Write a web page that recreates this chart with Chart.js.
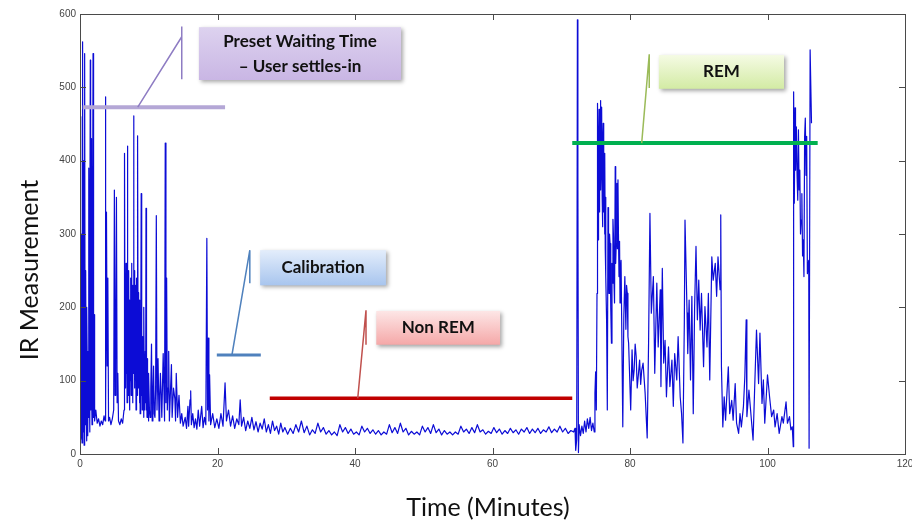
<!DOCTYPE html>
<html>
<head>
<meta charset="utf-8">
<script src="https://cdn.jsdelivr.net/npm/chart.js@4.4.1/dist/chart.umd.min.js"></script>
<style>
  html, body { margin: 0; padding: 0; background: #fff; }
</style>
</head>
<body>
<canvas id="irChart" width="912" height="522"></canvas>
<script>
// ---- data (minutes, IR reading) ----
const settleTrace = [
  [0.05, 460], [0.1, 20], [0.15, 180], [0.2, 300], [0.25, 40], [0.3, 15], [0.35, 250], [0.4, 562],
  [0.45, 30], [0.5, 200], [0.55, 400], [0.6, 12], [0.65, 300], [0.7, 546], [0.75, 40], [0.8, 160],
  [0.85, 250], [0.9, 60], [0.95, 18], [1.0, 200], [1.05, 120], [1.1, 60], [1.15, 25], [1.2, 140],
  [1.25, 50], [1.3, 390], [1.35, 120], [1.4, 30], [1.45, 260], [1.5, 537], [1.55, 60], [1.6, 200],
  [1.65, 430], [1.7, 90], [1.75, 40], [1.8, 150], [1.85, 300], [1.9, 546], [1.95, 50], [2.0, 120],
  [2.05, 190], [2.1, 60], [2.15, 45], [2.3, 60], [2.5, 42], [2.7, 48], [2.9, 38], [3.1, 45],
  [3.3, 40], [3.5, 52], [3.65, 45], [3.7, 487], [3.75, 60], [3.85, 330], [3.95, 120], [4.05, 240],
  [4.15, 45], [4.3, 50], [4.5, 40], [4.7, 48], [4.9, 60], [5.0, 360], [5.1, 80], [5.2, 150],
  [5.3, 350], [5.4, 70], [5.5, 110], [5.6, 45], [5.8, 40], [6.0, 48], [6.2, 42], [6.4, 60],
  [6.45, 180], [6.5, 410], [6.55, 120], [6.6, 240], [6.65, 90], [6.7, 260], [6.75, 110], [6.8, 200],
  [6.85, 70], [6.9, 420], [6.95, 150], [7.0, 230], [7.05, 80], [7.1, 250], [7.15, 120], [7.2, 210],
  [7.25, 60], [7.3, 200], [7.35, 100], [7.4, 240], [7.45, 80], [7.5, 260], [7.55, 130], [7.6, 220],
  [7.65, 70], [7.7, 230], [7.75, 140], [7.8, 461], [7.85, 110], [7.9, 250], [7.95, 90], [8.0, 210],
  [8.05, 130], [8.1, 230], [8.15, 60], [8.2, 240], [8.25, 120], [8.3, 200], [8.35, 80], [8.4, 434],
  [8.45, 130], [8.5, 220], [8.55, 90], [8.6, 210], [8.65, 70], [8.7, 180], [8.75, 55], [8.8, 190],
  [8.85, 100], [8.9, 355], [8.95, 80], [9.0, 170], [9.05, 60], [9.1, 160], [9.15, 70], [9.2, 150],
  [9.25, 50], [9.3, 200], [9.35, 90], [9.4, 130], [9.45, 60], [9.5, 140], [9.55, 70], [9.6, 335],
  [9.65, 60], [9.7, 120], [9.75, 50], [9.8, 130], [9.85, 60], [9.9, 100], [9.95, 45], [10.0, 110],
  [10.1, 60], [10.2, 50], [10.3, 90], [10.4, 150], [10.5, 45], [10.6, 80], [10.7, 120], [10.8, 55],
  [10.9, 50], [11.0, 90], [11.1, 325], [11.2, 60], [11.35, 130], [11.5, 45], [11.6, 80], [11.7, 110],
  [11.9, 50], [12.1, 137], [12.3, 45], [12.4, 424], [12.5, 70], [12.6, 240], [12.7, 60], [12.8, 90],
  [12.9, 140], [13.0, 45], [13.3, 122], [13.4, 50], [13.6, 90], [13.8, 75], [13.9, 45], [14.0, 110],
  [14.2, 50], [14.4, 80], [14.6, 42], [14.8, 55], [15.0, 38]
];
const calibTrace = [
  [15.3, 50], [15.5, 35], [15.7, 65], [15.8, 38], [16.0, 74], [16.1, 86], [16.2, 40], [16.4, 55],
  [16.6, 36], [16.8, 48], [17.0, 34], [17.2, 60], [17.4, 38], [17.7, 65], [17.9, 36], [18.1, 50],
  [18.3, 40], [18.45, 294], [18.55, 60], [18.65, 158], [18.75, 45], [18.85, 108], [19.0, 40], [19.3, 55],
  [19.6, 36], [19.9, 48], [20.2, 35], [20.5, 55], [20.8, 38], [21.1, 97], [21.3, 45], [21.6, 60],
  [21.9, 38], [22.2, 52], [22.5, 35], [22.8, 48], [23.1, 40], [23.3, 74], [23.5, 38], [23.8, 50],
  [24.1, 32], [24.4, 45], [24.7, 35], [25.0, 50], [25.3, 33], [25.6, 44], [25.9, 30], [26.2, 42],
  [26.5, 34], [26.8, 48], [27.1, 30], [27.4, 40], [27.7, 28], [28.0, 45], [28.3, 32], [28.6, 38],
  [28.9, 27], [29.2, 42], [29.5, 30], [29.8, 36]
];
const nonRemTrace = [
  [30.2, 27], [30.6, 35], [31.0, 28], [31.4, 40], [31.8, 30], [32.2, 45], [32.6, 29], [33.0, 38],
  [33.4, 26], [33.8, 33], [34.2, 28], [34.6, 42], [35.0, 30], [35.4, 36], [35.8, 27], [36.2, 32],
  [36.6, 26], [37.0, 30], [37.4, 25], [37.8, 40], [38.2, 30], [38.6, 36], [39.0, 28], [39.4, 34],
  [39.8, 27], [40.2, 30], [40.6, 26], [41.0, 38], [41.4, 30], [41.8, 35], [42.2, 28], [42.6, 33],
  [43.0, 27], [43.4, 32], [43.8, 26], [44.2, 30], [44.6, 27], [45.0, 40], [45.4, 29], [45.8, 36],
  [46.2, 28], [46.6, 42], [47.0, 30], [47.4, 35], [47.8, 26], [48.2, 31], [48.6, 27], [49.0, 30],
  [49.4, 26], [49.8, 38], [50.2, 30], [50.6, 36], [51.0, 28], [51.4, 40], [51.8, 29], [52.2, 34],
  [52.6, 26], [53.0, 32], [53.4, 27], [53.8, 30], [54.2, 26], [54.6, 30], [55.0, 27], [55.4, 38],
  [55.8, 30], [56.2, 34], [56.6, 28], [57.0, 36], [57.4, 29], [57.8, 40], [58.2, 30], [58.6, 33],
  [59.0, 27], [59.4, 31], [59.8, 28], [60.2, 36], [60.6, 29], [61.0, 34], [61.4, 27], [61.8, 32],
  [62.2, 28], [62.6, 35], [63.0, 29], [63.4, 33], [63.8, 27], [64.2, 34], [64.6, 30], [65.0, 36],
  [65.4, 28], [65.8, 34], [66.2, 29], [66.6, 35], [67.0, 28], [67.4, 33], [67.8, 30], [68.2, 37],
  [68.6, 29], [69.0, 34], [69.4, 30], [69.8, 38], [70.2, 30], [70.6, 35], [71.0, 28], [71.4, 32]
];
const remTrace = [
  [71.8, 30], [72.0, 35], [72.1, 5], [72.25, 20], [72.35, 592], [72.42, 378], [72.5, 2], [72.6, 40],
  [72.8, 25], [73.0, 38], [73.2, 28], [73.4, 45], [73.6, 30], [73.8, 48], [74.0, 35], [74.2, 50],
  [74.4, 32], [74.6, 42], [74.8, 30], [74.9, 83], [75.0, 112], [75.1, 60], [75.2, 219], [75.25, 400],
  [75.3, 478], [75.35, 300], [75.4, 292], [75.45, 420], [75.5, 470], [75.55, 330], [75.6, 369], [75.65, 450],
  [75.7, 482], [75.75, 360], [75.8, 392], [75.85, 440], [75.9, 473], [75.95, 350], [76.0, 310], [76.05, 420],
  [76.1, 451], [76.15, 330], [76.2, 351], [76.25, 400], [76.3, 300], [76.35, 410], [76.4, 280], [76.45, 350],
  [76.5, 242], [76.6, 180], [76.7, 60], [76.8, 336], [76.88, 250], [76.95, 219], [77.02, 300], [77.1, 287],
  [77.2, 200], [77.3, 151], [77.38, 260], [77.45, 233], [77.52, 320], [77.6, 296], [77.68, 230], [77.75, 206],
  [77.85, 392], [77.92, 260], [78.0, 287], [78.1, 369], [78.17, 280], [78.25, 374], [78.32, 300], [78.4, 242],
  [78.48, 290], [78.55, 206], [78.62, 250], [78.7, 264], [78.95, 37], [79.1, 188], [79.25, 242], [79.4, 170],
  [79.5, 230], [79.6, 219], [79.7, 160], [79.8, 151], [80.1, 60], [80.3, 142], [80.45, 100], [80.6, 114],
  [80.75, 150], [80.9, 133], [81.05, 90], [81.2, 106], [81.4, 128], [81.55, 95], [81.7, 114], [81.9, 124],
  [82.2, 83], [82.5, 22], [82.7, 150], [82.9, 328], [83.1, 192], [83.4, 242], [83.6, 110], [83.9, 233],
  [84.1, 146], [84.4, 224], [84.5, 92], [84.7, 253], [84.9, 124], [85.1, 155], [85.3, 78], [85.6, 146],
  [85.8, 92], [86.1, 128], [86.3, 65], [86.5, 137], [86.8, 101], [87.0, 160], [87.3, 78], [87.5, 55],
  [87.7, 15], [87.9, 178], [88.0, 319], [88.3, 192], [88.4, 137], [88.6, 210], [88.8, 101], [89.0, 215],
  [89.2, 55], [89.4, 201], [89.6, 283], [89.8, 183], [90.0, 237], [90.2, 169], [90.4, 219], [90.7, 119],
  [90.9, 201], [91.2, 146], [91.4, 219], [91.6, 101], [91.9, 269], [92.1, 237], [92.4, 260], [92.6, 215],
  [92.8, 269], [93.1, 224], [93.2, 326], [93.3, 119], [93.5, 37], [93.7, 78], [93.9, 46], [94.1, 83],
  [94.3, 119], [94.5, 55], [94.8, 73], [95.0, 46], [95.3, 96], [95.5, 42], [95.8, 28], [96.0, 55],
  [96.2, 37], [96.5, 65], [96.7, 105], [96.9, 183], [97.0, 51], [97.3, 87], [97.9, 19], [98.2, 110],
  [98.4, 169], [98.7, 96], [98.9, 165], [99.2, 69], [99.4, 101], [99.6, 42], [100.0, 108], [100.3, 78],
  [100.6, 51], [100.9, 60], [101.1, 37], [101.4, 55], [101.7, 28], [102.1, 51], [102.3, 42], [102.7, 71],
  [102.9, 42], [103.2, 51], [103.4, 33], [103.6, 37], [103.75, 10], [103.8, 494], [103.9, 342], [104.0, 472],
  [104.05, 400], [104.1, 387], [104.15, 430], [104.2, 446], [104.3, 380], [104.4, 346], [104.5, 442], [104.6, 360],
  [104.7, 387], [104.8, 300], [104.9, 319], [105.0, 355], [105.1, 270], [105.2, 292], [105.3, 242], [105.4, 433],
  [105.5, 458], [105.6, 380], [105.7, 433], [105.8, 246], [106.0, 264], [106.05, 8], [106.2, 551], [106.4, 451]
];

const xTicks = [0, 20, 40, 60, 80, 100, 120];
const yTicks = [0, 100, 200, 300, 400, 500, 600];

// sleep phase markers
const phaseLabels = [['Preset Waiting Time', '\u2013 User settles-in'], ['Calibration'], ['Non REM'], ['REM']];
const phaseLevel = [473, 135, 76, 424];
const phaseFrom = [0.4, 19.9, 27.6, 71.6];
const phaseTo = [21.1, 26.3, 71.6, 107.3];

// callout layout in axis units (anchor on marker, elbow, box)
const callouts = [
  { anchor: 8.4, elbowT: 14.8, elbowV: 569, stemTop: 583, stemBot: 511, box: [17.3, 46.7, 582, 510],
    line: '#b4a7d6', lineW: 4, stroke: '#8e7cc3', fill: ['#ddd2ef', '#c9b6e4'] },
  { anchor: 22.1, elbowT: 24.7, elbowV: 278, stemTop: 278, stemBot: 233, box: [26.2, 44.5, 278, 230],
    line: '#4f81bd', lineW: 3, stroke: '#4f81bd', fill: ['#e3edfb', '#a8c5ee'] },
  { anchor: 40.4, elbowT: 41.6, elbowV: 196, stemTop: 196, stemBot: 149, box: [43.1, 61.1, 195, 149],
    line: '#c00000', lineW: 3.5, stroke: '#c0504d', fill: ['#fde6e6', '#f5a8a8'] },
  { anchor: 81.7, elbowT: 82.8, elbowV: 545, stemTop: 545, stemBot: 499, box: [84.2, 102.4, 544, 498],
    line: '#00b050', lineW: 4, stroke: '#9bbb59', fill: ['#f5fbe4', '#d3eba4'] }
];

const tracePoints = [...settleTrace, ...calibTrace, ...nonRemTrace, ...remTrace].map(([t, v]) => ({ x: t, y: v }));

const framePlugin = {
  id: 'framePlugin',
  afterDatasetsDraw(chart) {
    const { ctx, scales: { x, y } } = chart;
    ctx.save();
    callouts.forEach((c, i) => {
      const lvl = y.getPixelForValue(phaseLevel[i]);
      // marker line
      ctx.strokeStyle = c.line;
      ctx.lineWidth = c.lineW;
      ctx.beginPath();
      ctx.moveTo(x.getPixelForValue(phaseFrom[i]), lvl);
      ctx.lineTo(x.getPixelForValue(phaseTo[i]), lvl);
      ctx.stroke();
      // pointer
      ctx.strokeStyle = c.stroke;
      ctx.lineWidth = 1.5;
      ctx.beginPath();
      ctx.moveTo(x.getPixelForValue(c.anchor), lvl);
      ctx.lineTo(x.getPixelForValue(c.elbowT), y.getPixelForValue(c.elbowV));
      ctx.moveTo(x.getPixelForValue(c.elbowT), y.getPixelForValue(c.stemTop));
      ctx.lineTo(x.getPixelForValue(c.elbowT), y.getPixelForValue(c.stemBot));
      ctx.stroke();
      // label box
      const bx0 = x.getPixelForValue(c.box[0]), bx1 = x.getPixelForValue(c.box[1]);
      const by0 = y.getPixelForValue(c.box[2]), by1 = y.getPixelForValue(c.box[3]);
      const g = ctx.createLinearGradient(0, by0, 0, by1);
      g.addColorStop(0, c.fill[0]);
      g.addColorStop(1, c.fill[1]);
      ctx.save();
      ctx.shadowColor = 'rgba(0,0,0,0.35)';
      ctx.shadowBlur = 4;
      ctx.shadowOffsetX = 2;
      ctx.shadowOffsetY = 2;
      ctx.fillStyle = g;
      ctx.fillRect(bx0, by0, bx1 - bx0, by1 - by0);
      ctx.restore();
      ctx.fillStyle = '#111';
      ctx.font = 'bold 17px Lato';
      ctx.textAlign = 'center';
      ctx.textBaseline = 'middle';
      const lines = phaseLabels[i];
      const cx = (bx0 + bx1) / 2, cy = (by0 + by1) / 2;
      lines.forEach((s, k) => ctx.fillText(s, cx, cy + (k - (lines.length - 1) / 2) * 25));
    });
    ctx.restore();
  },
  afterDraw(chart) {
    const { ctx, chartArea: a, scales: { x, y } } = chart;
    ctx.save();
    ctx.strokeStyle = '#4a4a4a';
    ctx.lineWidth = 1;
    ctx.strokeRect(Math.round(a.left) + 0.5, Math.round(a.top) + 0.5, Math.round(a.right - a.left), Math.round(a.bottom - a.top));
    ctx.beginPath();
    xTicks.forEach(t => {
      const px = Math.round(x.getPixelForValue(t)) + 0.5;
      ctx.moveTo(px, a.bottom); ctx.lineTo(px, a.bottom - 6);
      ctx.moveTo(px, a.top); ctx.lineTo(px, a.top + 6);
    });
    yTicks.forEach(v => {
      const py = Math.round(y.getPixelForValue(v)) + 0.5;
      ctx.moveTo(a.left, py); ctx.lineTo(a.left + 6, py);
      ctx.moveTo(a.right, py); ctx.lineTo(a.right - 6, py);
    });
    ctx.stroke();
    // axis titles
    ctx.fillStyle = '#111';
    ctx.font = '25px Lato';
    ctx.textAlign = 'center';
    ctx.textBaseline = 'middle';
    ctx.fillText('Time (Minutes)', 488, 508);
    ctx.translate(30, 270);
    ctx.rotate(-Math.PI / 2);
    ctx.fillText('IR Measurement', 0, 0);
    ctx.restore();
  }
};

new Chart(document.getElementById('irChart'), {
  type: 'line',
  data: {
    datasets: [{
      data: tracePoints,
      borderColor: '#0c0cd6',
      borderWidth: 1.2,
      borderJoinStyle: 'round',
      pointRadius: 0,
      tension: 0,
      fill: false
    }]
  },
  options: {
    responsive: false,
    animation: false,
    layout: { padding: { top: 14, right: 7, left: 0, bottom: 0 } },
    plugins: { legend: { display: false }, tooltip: { enabled: false } },
    scales: {
      x: {
        type: 'linear', min: 0, max: 120,
        afterBuildTicks: s => { s.ticks = xTicks.map(v => ({ value: v })); },
        afterFit: s => { s.height = 68; s.paddingLeft = 0; s.paddingRight = 0; },
        grid: { display: false, drawTicks: false, tickLength: 0 }, border: { display: false },
        ticks: { color: '#444', padding: 4, maxRotation: 0, font: { family: 'Liberation Sans', size: 10 } }
      },
      y: {
        min: 0, max: 600,
        afterBuildTicks: s => { s.ticks = yTicks.map(v => ({ value: v })); },
        afterFit: s => { s.width = 80; s.paddingTop = 0; s.paddingBottom = 0; },
        grid: { display: false, drawTicks: false, tickLength: 0 }, border: { display: false },
        ticks: { color: '#444', padding: 4, font: { family: 'Liberation Sans', size: 10 } }
      }
    }
  },
  plugins: [framePlugin]
});
</script>
</body>
</html>
